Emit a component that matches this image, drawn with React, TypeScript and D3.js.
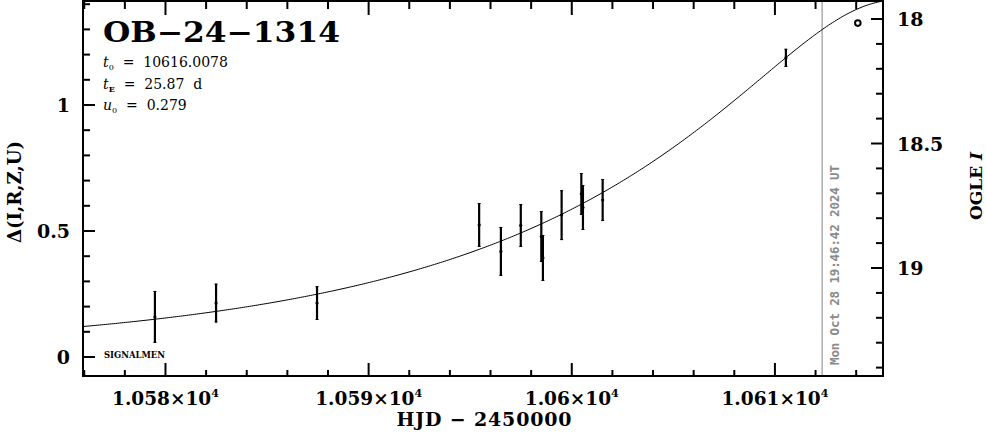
import React from "react";
import * as d3 from "d3";

// ---- data ----
const hjd = [10579.48, 10582.49, 10587.46, 10595.44, 10596.51, 10597.49, 10598.5, 10598.58, 10599.5, 10600.47, 10600.55, 10601.52, 10610.54];
const delta = [0.159, 0.214, 0.214, 0.524, 0.419, 0.522, 0.478, 0.393, 0.563, 0.647, 0.593, 0.623, 1.187];
const deltaErr = [0.103, 0.077, 0.067, 0.087, 0.097, 0.085, 0.101, 0.091, 0.099, 0.083, 0.089, 0.083, 0.036];
const openHjd = [10614.08];
const openDelta = [1.325];

// model parameters (as printed on the chart)
const T0 = 10616.0078;
const TE = 25.87;
const U0 = 0.279;

const xMajorTicks = [10580, 10590, 10600, 10610];
const xMajorLabels = ["1.058", "1.059", "1.06", "1.061"];
const leftTicks = [0, 0.5, 1];
const leftLabels = ["0", "0.5", "1"];
const rightTicks = [18, 18.5, 19];
const rightLabels = ["18", "18.5", "19"];
const nowHjd = 10612.324;
const nowLabel = "Mon Oct 28 19:46:42 2024 UT";

const W = 986, H = 434;
const L = 83, R = 883, T = 1, B = 376;

const x = d3.scaleLinear().domain([10575.94, 10615.32]).range([L, R]);
const y = d3.scaleLinear().domain([-0.0754, 1.4127]).range([B, T]);
const yr = d3.scaleLinear().domain([17.9277, 19.4337]).range([T, B]);

function magDelta(t: number) {
  const tau = (t - T0) / TE;
  const u = Math.sqrt(U0 * U0 + tau * tau);
  const A = (u * u + 2) / (u * Math.sqrt(u * u + 4));
  return 2.5 * Math.log10(A);
}

export default function App() {
  const [t0d, t1d] = x.domain();
  const ts = d3.range(t0d, t1d + 0.1, 0.1);
  const line = d3.line<number>().x((t) => x(t)).y((t) => y(magDelta(t)))(ts) || "";

  const xMinor = d3.range(10576, 10616, 2).filter((v) => v % 10 !== 0);
  const leftMinor = d3.range(0, 15).map((i) => i / 10).filter((v) => v > y.domain()[0] && v < y.domain()[1]);
  const rightMinor = d3.range(180, 195).map((i) => i / 10).filter((v) => v > yr.domain()[0] && v < yr.domain()[1]);

  const serif = "DejaVu Serif";
  const ink = "#000";
  const eq = "\u00a0\u00a0=\u00a0\u00a0";

  return (
    <svg width={W} height={H} style={{ position: "absolute", left: 0, top: 0, background: "#fff" }}>
      <rect x={0} y={0} width={W} height={H} fill="#fff" />
      {/* now line */}
      <line x1={x(nowHjd)} x2={x(nowHjd)} y1={T} y2={B} stroke="#999" strokeWidth={1.2} />
      <text
        transform={`translate(${x(nowHjd) + 17},${B - 11}) rotate(-90)`}
        fontFamily="DejaVu Sans Mono"
        fontWeight="bold"
        fontSize={12.5}
        fill="#8a8a8a"
        textLength={200}
        lengthAdjust="spacing"
      >
        {nowLabel}
      </text>

      {/* model curve */}
      <path d={line} fill="none" stroke={ink} strokeWidth={1} />

      {/* error bars */}
      {hjd.map((t, i) => {
        const cx = x(t);
        const y1 = y(delta[i] + deltaErr[i]);
        const y2 = y(delta[i] - deltaErr[i]);
        return (
          <g key={i}>
            <line x1={cx} x2={cx} y1={y1} y2={y2} stroke={ink} strokeWidth={2.2} />
            <line x1={cx - 1.5} x2={cx + 1.5} y1={y1 + 0.5} y2={y1 + 0.5} stroke={ink} strokeWidth={1} />
            <line x1={cx - 1.5} x2={cx + 1.5} y1={y2 - 0.5} y2={y2 - 0.5} stroke={ink} strokeWidth={1} />
            <circle cx={cx} cy={y(delta[i])} r={1.6} fill={ink} />
          </g>
        );
      })}
      {openHjd.map((t, i) => (
        <circle key={"o" + i} cx={x(t)} cy={y(openDelta[i])} r={2.8} fill="none" stroke={ink} strokeWidth={2} />
      ))}

      {/* frame */}
      <rect x={L} y={T} width={R - L} height={B - T} fill="none" stroke={ink} strokeWidth={2} />

      {/* x ticks top & bottom */}
      {xMajorTicks.map((v) => (
        <g key={"xm" + v}>
          <line x1={x(v)} x2={x(v)} y1={B} y2={B - 13} stroke={ink} strokeWidth={2} />
          <line x1={x(v)} x2={x(v)} y1={T} y2={T + 14} stroke={ink} strokeWidth={2} />
        </g>
      ))}
      {xMinor.map((v) => (
        <g key={"xn" + v}>
          <line x1={x(v)} x2={x(v)} y1={B} y2={B - 6} stroke={ink} strokeWidth={2} />
          <line x1={x(v)} x2={x(v)} y1={T} y2={T + 8} stroke={ink} strokeWidth={2} />
        </g>
      ))}
      {xMajorTicks.map((v, i) => (
        <text key={"xl" + v} x={x(v)} y={405} textAnchor="middle" fontFamily={serif} fontWeight="bold" fontSize={18.5} fill={ink}>
          {xMajorLabels[i]}×10<tspan fontSize={11} dy={-8}>4</tspan>
        </text>
      ))}

      {/* left ticks */}
      {leftTicks.map((v, i) => (
        <g key={"lm" + v}>
          <line x1={L} x2={L + 12} y1={y(v)} y2={y(v)} stroke={ink} strokeWidth={2} />
          <text x={70} y={y(v) + 7} textAnchor="end" fontFamily={serif} fontWeight="bold" fontSize={19} fill={ink}>
            {leftLabels[i]}
          </text>
        </g>
      ))}
      {leftMinor.filter((v) => !leftTicks.includes(v)).map((v) => (
        <line key={"ln" + v} x1={L} x2={L + 7} y1={y(v)} y2={y(v)} stroke={ink} strokeWidth={2} />
      ))}

      {/* right ticks */}
      {rightTicks.map((v, i) => (
        <g key={"rm" + v}>
          <line x1={R} x2={R - 12} y1={yr(v)} y2={yr(v)} stroke={ink} strokeWidth={2} />
          <text x={897} y={yr(v) + 7} textAnchor="start" fontFamily={serif} fontWeight="bold" fontSize={19} fill={ink}>
            {rightLabels[i]}
          </text>
        </g>
      ))}
      {rightMinor.filter((v) => !rightTicks.some((r) => Math.abs(r - v) < 1e-6)).map((v) => (
        <line key={"rn" + v} x1={R} x2={R - 7} y1={yr(v)} y2={yr(v)} stroke={ink} strokeWidth={2} />
      ))}

      {/* axis titles */}
      <text x={484} y={426} textAnchor="middle" fontFamily={serif} fontWeight="bold" fontSize={19} fill={ink} textLength={175} lengthAdjust="spacing">
        HJD − 2450000
      </text>
      <text transform="translate(21,192) rotate(-90)" textAnchor="middle" fontFamily={serif} fontWeight="bold" fontSize={18} fill={ink} textLength={102} lengthAdjust="spacingAndGlyphs">
        Δ(I,R,Z,U)
      </text>
      <text transform="translate(982,186) rotate(-90)" textAnchor="middle" fontFamily={serif} fontWeight="bold" fontSize={17} fill={ink}>
        OGLE <tspan fontStyle="italic">I</tspan>
      </text>

      {/* title and parameters */}
      <text x={103} y={42} fontFamily={serif} fontWeight="bold" fontSize={27} fill={ink} textLength={237} lengthAdjust="spacingAndGlyphs">
        OB−24−1314
      </text>
      <text x={103} y={67} fontFamily={serif} fontSize={14} fill={ink}>
        <tspan fontStyle="italic">t</tspan>
        <tspan fontSize={8} dy={3}>0</tspan>
        <tspan dy={-3}>{eq + "10616.0078"}</tspan>
      </text>
      <text x={103} y={89} fontFamily={serif} fontSize={14} fill={ink}>
        <tspan fontStyle="italic">t</tspan>
        <tspan fontSize={8} dy={3} fontWeight="bold">E</tspan>
        <tspan dy={-3}>{eq + "25.87\u00a0\u00a0d"}</tspan>
      </text>
      <text x={103} y={110} fontFamily={serif} fontSize={14} fill={ink}>
        <tspan fontStyle="italic">u</tspan>
        <tspan fontSize={8} dy={3}>0</tspan>
        <tspan dy={-3}>{eq + "0.279"}</tspan>
      </text>
      <text x={104} y={358} fontFamily={serif} fontWeight="bold" fontSize={9} fill={ink} textLength={61} lengthAdjust="spacingAndGlyphs">
        SIGNALMEN
      </text>
    </svg>
  );
}
